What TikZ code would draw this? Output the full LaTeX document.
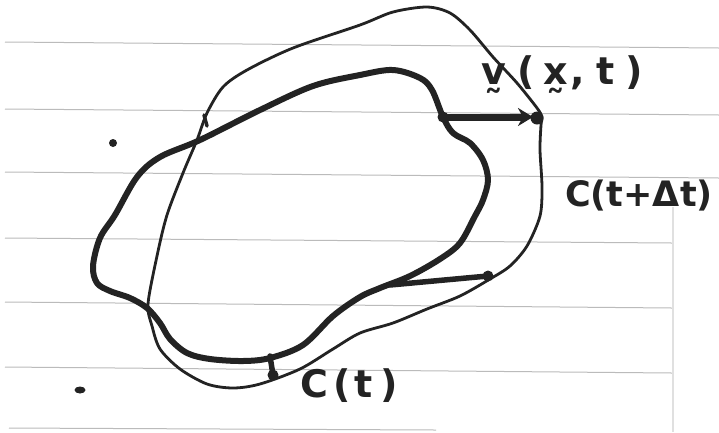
\documentclass[tikz,border=0pt]{standalone}
\usepackage{fontspec}
\usetikzlibrary{arrows.meta}
\newfontfamily\hand{DejaVu Sans}
\definecolor{ink}{HTML}{232323}
\definecolor{rule}{HTML}{BBBBBB}
\tikzset{
  ruling/.style={draw=rule, line width=1pt},
  thickcurve/.style={draw=ink, line width=6pt, line join=round},
  thincurve/.style={draw=ink, line width=2.8pt, line join=round},
  blob/.style={circle, fill=ink, inner sep=0pt, minimum size=11pt},
  handlabel/.style={text=ink, inner sep=0pt, font=\hand\bfseries\fontsize{38}{40}\selectfont},
  vecarrow/.style={draw=ink, line width=7pt, -{Stealth[length=15pt,width=18pt]}},
  marker/.style={draw=ink, line width=5.5pt, line cap=round}
}
\begin{document}
\begin{tikzpicture}[x=1pt,y=-1pt]
\useasboundingbox (0,0) rectangle (719,432);
\fill[white] (0,0) rectangle (719,432);
% ruled paper
\draw[ruling] (5,42) -- (719,48);
\draw[ruling] (5,109) -- (719,115);
\draw[ruling] (5,172) -- (719,178);
\draw[ruling] (5,238) -- (672,243);
\draw[ruling] (5,302) -- (672,308);
\draw[ruling] (5,367) -- (672,373);
\draw[ruling] (9,428) -- (436,430);
% paper edge
\fill[white] (672,207) rectangle (719,432);
\draw[draw=black!12, line width=2pt] (673,207) -- (673,432);
% stray dots
\fill[ink] (113,143) circle (4pt);
\fill[ink] (80,390) ellipse (5.5pt and 3.5pt);
% curve C(t)
\draw[thickcurve] plot[smooth cycle, tension=0.55] coordinates {(443,117) (432,90) (420,78) (393,70) (360,75) (313,86) (260,110) (200,140) (160,157) (137,177) (115,215) (100,238) (93,266) (97,283) (110,291) (130,298) (147,308) (160,323) (170,339) (187,353) (210,359) (243,361) (270,358) (303,345) (333,316) (360,297) (380,288) (410,276) (440,259) (460,243) (475,216) (483,200) (488,180) (483,160) (470,143) (453,133)};
% curve C(t+dt)
\draw[thincurve] plot[smooth cycle, tension=0.5] coordinates {(542,117) (537,108) (517,83) (493,57) (470,30) (450,13) (427,7) (393,12) (360,25) (293,48) (247,70) (223,87) (207,113) (197,140) (183,173) (167,215) (157,256) (148,304) (152,326) (160,349) (180,369) (207,384) (233,388) (260,384) (300,369) (333,349) (360,333) (393,323) (427,309) (460,296) (490,279) (510,266) (527,246) (540,216) (542,187) (540,150) (541,125)};
\draw[draw=ink, line width=3.5pt, line cap=round] (204,115) -- (207,126);
% velocity arrow
\node[blob] (vtail) at (443,117) {};
\node[blob, minimum size=13pt] (vend) at (537,118) {};
\coordinate (vtip) at (533,117);
\draw[vecarrow] (vtail.center) -- (vtip);
% lower displacement
\coordinate (ltail) at (390,285);
\node[blob] (lend) at (488,276) {};
\draw[marker] (ltail) -- (lend.center);
% C(t) marker
\coordinate (ctop) at (270,356);
\node[blob] (cbot) at (273,375) {};
\draw[marker] (ctop) -- (cbot.center);
% labels
\node[handlabel, anchor=base] (vlab) at (562,84) {v^^^^0330\hspace{12pt}(\hspace{8pt}x^^^^0330\hspace{3pt},\hspace{11pt}t\hspace{11pt})};
\node[handlabel, anchor=base, font=\hand\bfseries\fontsize{35}{38}\selectfont] (cdt) at (639,206) {C(t+Δt)};
\node[handlabel, anchor=base] (clab) at (349,397) {C\hspace{6pt}(\hspace{3pt}t\hspace{8pt})};
\end{tikzpicture}
\end{document}
